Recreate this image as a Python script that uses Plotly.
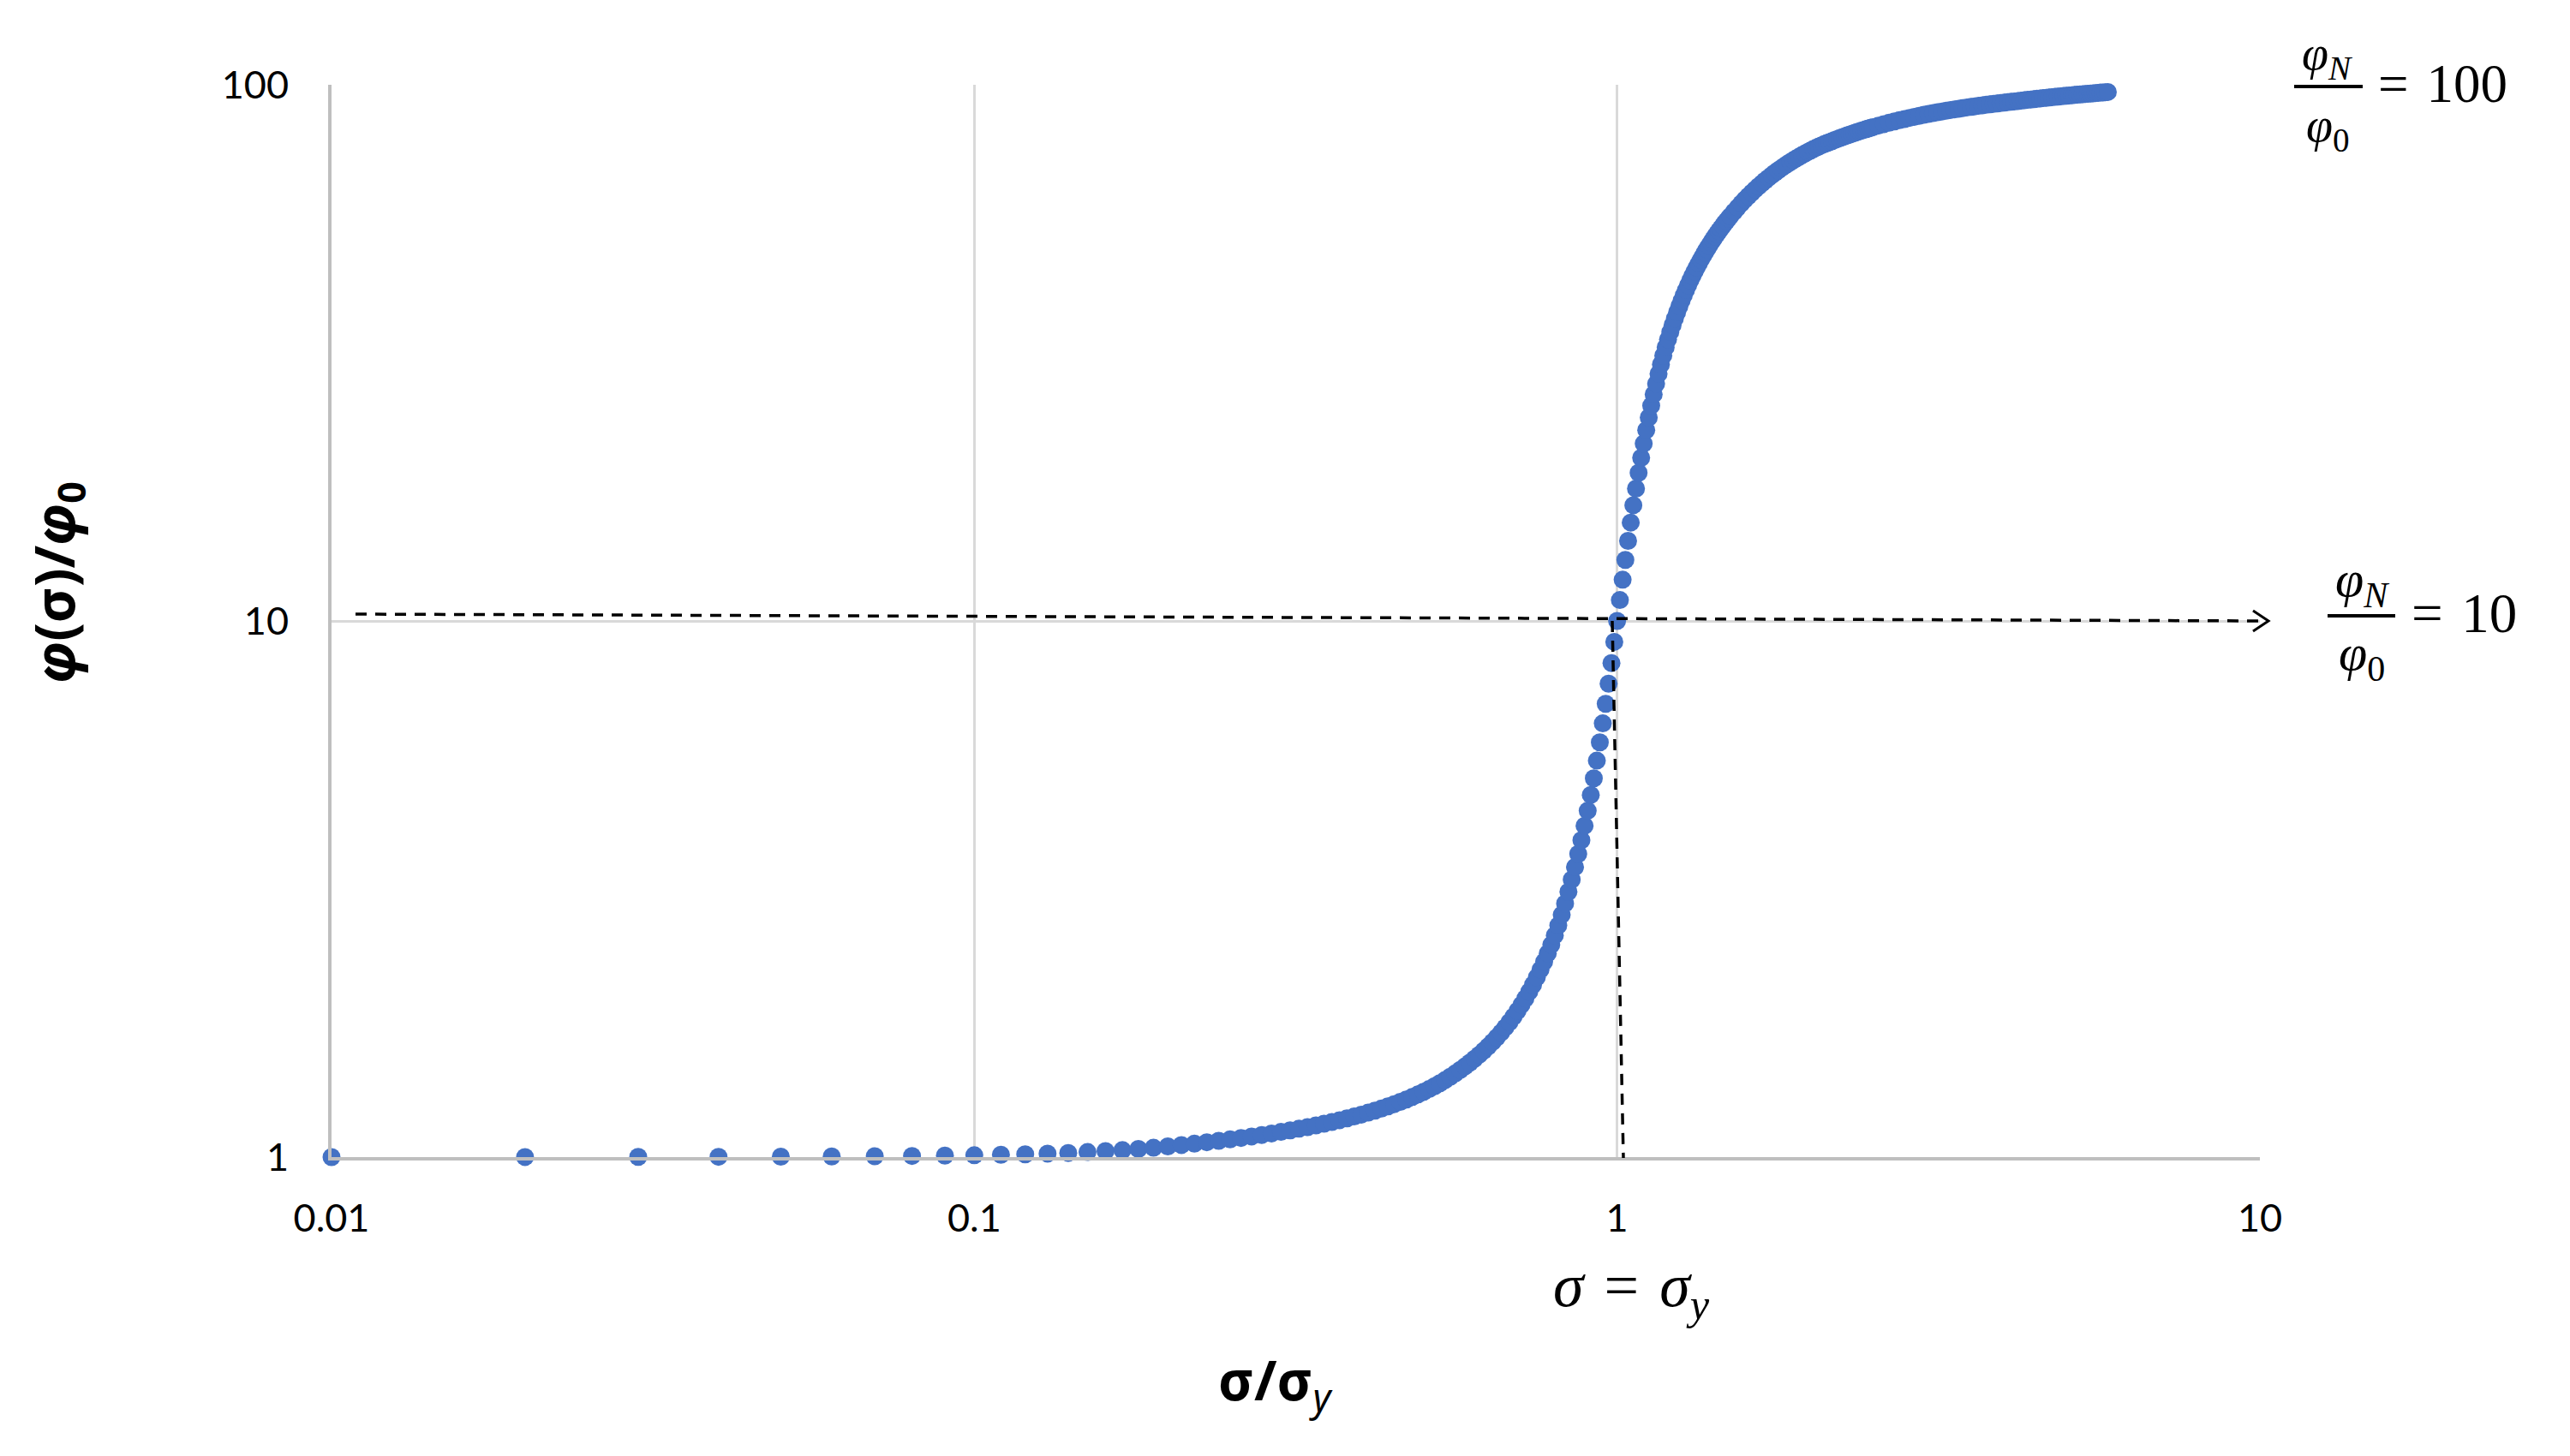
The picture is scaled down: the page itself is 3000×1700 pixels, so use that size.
import plotly.graph_objects as go

# ---------------- data ----------------
sigma_ratio = [
    0.01, 0.02, 0.03, 0.04, 0.05, 0.06, 0.07, 0.08, 0.09, 0.10,
    0.11, 0.12, 0.13, 0.14, 0.15, 0.16, 0.17, 0.18, 0.19, 0.20,
    0.21, 0.22, 0.23, 0.24, 0.25, 0.26, 0.27, 0.28, 0.29, 0.30,
    0.31, 0.32, 0.33, 0.34, 0.35, 0.36, 0.37, 0.38, 0.39, 0.40,
    0.41, 0.42, 0.43, 0.44, 0.45, 0.46, 0.47, 0.48, 0.49, 0.50,
    0.51, 0.52, 0.53, 0.54, 0.55, 0.56, 0.57, 0.58, 0.59, 0.60,
    0.61, 0.62, 0.63, 0.64, 0.65, 0.66, 0.67, 0.68, 0.69, 0.70,
    0.71, 0.72, 0.73, 0.74, 0.75, 0.76, 0.77, 0.78, 0.79, 0.80,
    0.81, 0.82, 0.83, 0.84, 0.85, 0.86, 0.87, 0.88, 0.89, 0.90,
    0.91, 0.92, 0.93, 0.94, 0.95, 0.96, 0.97, 0.98, 0.99, 1.00,
    1.01, 1.02, 1.03, 1.04, 1.05, 1.06, 1.07, 1.08, 1.09, 1.10,
    1.11, 1.12, 1.13, 1.14, 1.15, 1.16, 1.17, 1.18, 1.19, 1.20,
    1.21, 1.22, 1.23, 1.24, 1.25, 1.26, 1.27, 1.28, 1.29, 1.30,
    1.31, 1.32, 1.33, 1.34, 1.35, 1.36, 1.37, 1.38, 1.39, 1.40,
    1.41, 1.42, 1.43, 1.44, 1.45, 1.46, 1.47, 1.48, 1.49, 1.50,
    1.52, 1.54, 1.56, 1.58, 1.60, 1.62, 1.64, 1.66, 1.68, 1.70,
    1.72, 1.74, 1.76, 1.78, 1.80, 1.82, 1.84, 1.86, 1.88, 1.90,
    1.92, 1.94, 1.96, 1.98, 2.00, 2.02, 2.04, 2.06, 2.08, 2.10,
    2.12, 2.14, 2.16, 2.18, 2.20, 2.22, 2.24, 2.26, 2.28, 2.30,
    2.32, 2.34, 2.36, 2.38, 2.40, 2.42, 2.44, 2.46, 2.48, 2.50,
    2.55, 2.60, 2.65, 2.70, 2.75, 2.80, 2.85, 2.90, 2.95, 3.00,
    3.05, 3.10, 3.15, 3.20, 3.25, 3.30, 3.35, 3.40, 3.45, 3.50,
    3.55, 3.60, 3.65, 3.70, 3.75, 3.80, 3.85, 3.90, 3.95, 4.00,
    4.05, 4.10, 4.15, 4.20, 4.25, 4.30, 4.35, 4.40, 4.45, 4.50,
    4.55, 4.60, 4.65, 4.70, 4.75, 4.80, 4.85, 4.90, 4.95, 5.00,
    5.05, 5.10, 5.15, 5.20, 5.25, 5.30, 5.35, 5.40, 5.45, 5.50,
    5.55, 5.60, 5.65, 5.70, 5.75, 5.80,
]

phi_ratio = [
    1.0001, 1.0004, 1.0008, 1.0013, 1.002, 1.0028, 1.0038, 1.005, 1.0065, 1.008,
    1.010, 1.012, 1.015, 1.018, 1.022, 1.026, 1.0305, 1.0355, 1.041, 1.047,
    1.0532, 1.0594, 1.0658, 1.0723, 1.0790, 1.0857, 1.0926, 1.0997, 1.1069, 1.1143,
    1.1218, 1.1296, 1.1375, 1.1457, 1.1541, 1.1628, 1.1717, 1.1809, 1.1904, 1.2002,
    1.2103, 1.2209, 1.2319, 1.2434, 1.2553, 1.2677, 1.2808, 1.2944, 1.3087, 1.3236,
    1.3393, 1.3559, 1.3735, 1.3921, 1.4117, 1.4324, 1.4539, 1.4765, 1.5002, 1.5250,
    1.5510, 1.5787, 1.6080, 1.6391, 1.6720, 1.7071, 1.7447, 1.7849, 1.8280, 1.8739,
    1.9233, 1.9767, 2.0344, 2.0967, 2.1639, 2.2364, 2.3144, 2.3985, 2.4891, 2.5912,
    2.7040, 2.8314, 2.9717, 3.1247, 3.2924, 3.4754, 3.6771, 3.8994, 4.1495, 4.4258,
    4.7368, 5.0873, 5.4890, 5.9361, 6.4417, 7.0066, 7.6384, 8.3465, 9.1411, 10.000,
    10.940, 11.940, 12.996, 14.105, 15.255, 16.436, 17.655, 18.893, 20.155, 21.419,
    22.688, 23.955, 25.211, 26.461, 27.695, 28.907, 30.095, 31.261, 32.395, 33.503,
    34.585, 35.636, 36.660, 37.661, 38.637, 39.592, 40.523, 41.429, 42.316, 43.183,
    44.026, 44.845, 45.647, 46.432, 47.198, 47.943, 48.678, 49.390, 50.084, 50.769,
    51.439, 52.095, 52.734, 53.357, 53.975, 54.575, 55.169, 55.744, 56.312, 56.872,
    57.97, 59.03, 60.06, 61.05, 62.00, 62.92, 63.81, 64.67, 65.49, 66.29,
    67.06, 67.81, 68.52, 69.22, 69.88, 70.53, 71.15, 71.75, 72.33, 72.89,
    73.43, 73.95, 74.45, 74.94, 75.40, 75.86, 76.29, 76.71, 77.12, 77.50,
    77.85, 78.18, 78.53, 78.87, 79.20, 79.53, 79.85, 80.15, 80.46, 80.75,
    81.04, 81.32, 81.59, 81.86, 82.12, 82.38, 82.63, 82.88, 83.12, 83.35,
    83.92, 84.45, 84.96, 85.44, 85.90, 86.33, 86.75, 87.14, 87.52, 87.88,
    88.22, 88.55, 88.86, 89.17, 89.45, 89.73, 90.00, 90.25, 90.49, 90.73,
    90.96, 91.17, 91.38, 91.58, 91.78, 91.97, 92.15, 92.32, 92.49, 92.65,
    92.81, 92.96, 93.11, 93.25, 93.42, 93.57, 93.73, 93.87, 94.03, 94.16,
    94.31, 94.44, 94.57, 94.70, 94.83, 94.95, 95.07, 95.19, 95.31, 95.42,
    95.53, 95.63, 95.75, 95.84, 95.95, 96.05, 96.15, 96.24, 96.34, 96.43,
    96.52, 96.61, 96.70, 96.78, 96.87, 96.95,
]

x_tick_vals = [0.01, 0.1, 1, 10]
x_tick_text = ["0.01", "0.1", "1", "10"]
y_tick_vals = [1, 10, 100]
y_tick_text = ["1", "10", "100"]

# ---------------- layout geometry ----------------
W, H = 3000, 1700
PL, PR, PT, PB = 387, 2638, 99, 1351   # plot area in pixels


def px(xp):
    return (xp - PL) / (PR - PL)


def py(yp):
    return (PB - yp) / (PB - PT)


BLUE = "#4472C4"
GRID = "#d9d9d9"
AXIS = "#bfbfbf"
SERIF = "Liberation Serif"
SANS = "Noto Sans"
TICKFONT = "Lato"
SP = "\u2004"

fig = go.Figure()
fig.add_trace(go.Scatter(
    x=sigma_ratio, y=phi_ratio, mode="markers",
    marker=dict(color=BLUE, size=21, line=dict(width=0)),
    cliponaxis=False, showlegend=False, hoverinfo="x+y",
))

fig.update_xaxes(
    type="log", range=[-2, 1], tickvals=x_tick_vals, ticktext=x_tick_text,
    showgrid=True, gridcolor=GRID, gridwidth=3,
    showline=True, linecolor=AXIS, linewidth=4,
    ticks="", ticklabelstandoff=29,
    tickfont=dict(family=TICKFONT, size=45, color="#000000"),
    zeroline=False,
)
fig.update_yaxes(
    type="log", range=[0, 2], tickvals=y_tick_vals, ticktext=y_tick_text,
    showgrid=True, gridcolor=GRID, gridwidth=3,
    showline=True, linecolor=AXIS, linewidth=4,
    ticks="", ticklabelstandoff=37,
    tickfont=dict(family=TICKFONT, size=45, color="#000000"),
    zeroline=False,
)

shapes = []
dash = "13px,10px"
# horizontal guide at phi/phi0 = 10
shapes.append(dict(type="line", xref="paper", yref="paper",
                   x0=px(415), y0=py(717), x1=px(2645), y1=py(725),
                   line=dict(color="black", width=3.5, dash=dash)))
# vertical guide at sigma = sigma_y
shapes.append(dict(type="line", xref="paper", yref="paper",
                   x0=px(1882), y0=py(725), x1=px(1895), y1=py(1352),
                   line=dict(color="black", width=3.5, dash=dash)))
# open arrow head
shapes.append(dict(type="path", xref="paper", yref="paper",
                   path=f"M {px(2630)} {py(713)} L {px(2648)} {py(725)} L {px(2630)} {py(737)}",
                   line=dict(color="black", width=3)))
# fraction bars
shapes.append(dict(type="line", xref="paper", yref="paper",
                   x0=px(2678), y0=py(101), x1=px(2758), y1=py(101),
                   line=dict(color="black", width=4)))
shapes.append(dict(type="line", xref="paper", yref="paper",
                   x0=px(2717), y0=py(719), x1=px(2796), y1=py(719),
                   line=dict(color="black", width=4)))

annotations = []


def note(text, x, y, size, family, xanchor="center", yanchor="middle", angle=0):
    annotations.append(dict(
        text=text, xref="paper", yref="paper", x=px(x), y=py(y),
        xanchor=xanchor, yanchor=yanchor, showarrow=False, textangle=angle,
        font=dict(family=family, size=size, color="black"),
    ))


# axis titles
note("<b><i>φ</i>(σ)/<i>φ</i><sub>0</sub></b>", 66, 680, 64, SANS, angle=-90)
note("<b>σ/σ</b><sub><i>y</i></sub>", 1489, 1614, 64, SANS)
# sigma = sigma_y
note(f"<i>σ</i>{SP}={SP}<i>σ</i><sub><i>y</i></sub>", 1811, 1506, 72, SERIF, xanchor="left")
# phi_N / phi_0 = 100
note("<i>φ</i><sub><i>N</i></sub>", 2716, 66, 56, SERIF)
note("<i>φ</i><sub>0</sub>", 2717, 150, 56, SERIF)
note(f"={SP}100", 2774, 98, 63, SERIF, xanchor="left")
# phi_N / phi_0 = 10
note("<i>φ</i><sub><i>N</i></sub>", 2757, 680, 60, SERIF)
note("<i>φ</i><sub>0</sub>", 2757, 766, 60, SERIF)
note(f"={SP}10", 2813, 716, 65, SERIF, xanchor="left")

fig.update_layout(
    width=W, height=H,
    margin=dict(l=PL, r=W - PR, t=PT, b=H - PB, pad=0),
    paper_bgcolor="white", plot_bgcolor="white",
    shapes=shapes, annotations=annotations,
    showlegend=False,
)

fig.write_html("out.html", config={"displayModeBar": False},
               post_script="document.body.style.margin='0px';")
